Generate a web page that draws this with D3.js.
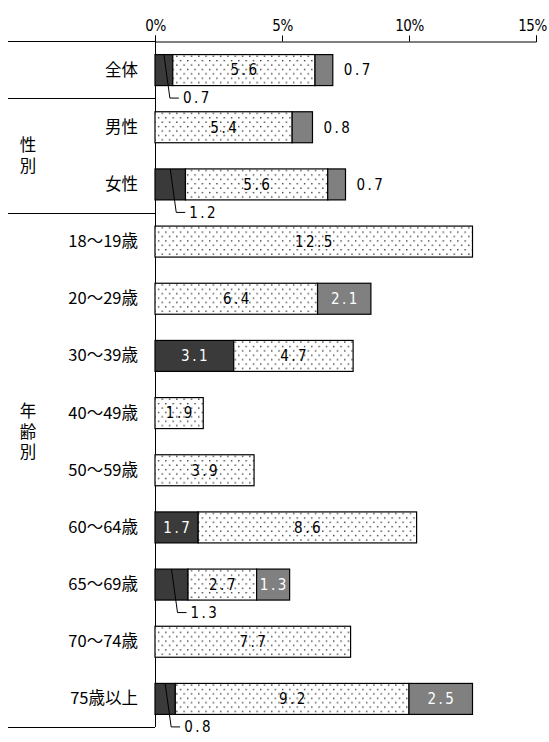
<!DOCTYPE html>
<meta charset="utf-8">
<title>stacked bars</title>
<style>
  body { margin: 0; background: #fff; }
  .cat { font-family: "Noto Sans CJK JP", sans-serif; font-size: 16.5px; fill: #000; }
  .grp { font-family: "Noto Sans CJK JP", sans-serif; font-size: 16.5px; fill: #000; writing-mode: vertical-rl; letter-spacing: 4px; }
  .num { font-family: "DejaVu Sans Condensed", sans-serif; font-size: 15px; letter-spacing: 2.5px; }
  .tick text { font-family: "DejaVu Sans Condensed", sans-serif; font-size: 15px; fill: #000; letter-spacing: -0.5px; }
  .rule { stroke: #000; stroke-width: 1px; }
</style>
<body>
<script src="https://d3js.org/d3.v7.min.js"></script>
<script>

var width = 549,
    height = 742;

var categories = ["全体", "男性", "女性", "18～19歳", "20～29歳", "30～39歳", "40～49歳",
                  "50～59歳", "60～64歳", "65～69歳", "70～74歳", "75歳以上"];
var darkValues   = [0.7, 0,   1.2, 0,    0,   3.1, 0,   0,   1.7, 1.3, 0,   0.8];
var dottedValues = [5.6, 5.4, 5.6, 12.5, 6.4, 4.7, 1.9, 3.9, 8.6, 2.7, 7.7, 9.2];
var grayValues   = [0.7, 0.8, 0.7, 0,    2.1, 0,   0,   0,   0,   1.3, 0,   2.5];
var xTicks = [0, 5, 10, 15];
var groupLabels = ["性別", "年齢別"];
var breaksAfter = ["全体", "女性"];

var svg = d3.select("body").append("svg")
    .attr("width", width)
    .attr("height", height);

// dotted fill
var pat = svg.append("defs").append("pattern")
    .attr("id", "dots")
    .attr("patternUnits", "userSpaceOnUse")
    .attr("width", 7.3).attr("height", 8.8);
pat.append("rect").attr("width", 7.3).attr("height", 8.8).attr("fill", "#fff");
pat.append("rect").attr("x", 1).attr("y", 1.5).attr("width", 1.3).attr("height", 1.3).attr("fill", "#222");
pat.append("rect").attr("x", 4.6).attr("y", 5.9).attr("width", 1.3).attr("height", 1.3).attr("fill", "#222");

var x = d3.scaleLinear().domain([0, 15]).range([155, 536]);
var y = d3.scaleBand().domain(categories).range([41, 727])
    .paddingInner(0.458).paddingOuter(0.229);
var step = y.step();

// table lines on the left
var lineYs = [41, 727].concat(breaksAfter.map(function(c) { return y(c) + y.bandwidth() + step * 0.229; }));
svg.selectAll(".rowline").data(lineYs).enter().append("line")
    .attr("class", "rule")
    .attr("x1", 8).attr("x2", x(0))
    .attr("y1", function(d) { return Math.round(d) + 0.5; })
    .attr("y2", function(d) { return Math.round(d) + 0.5; });

// top axis
var axis = svg.append("g")
    .attr("transform", "translate(0,41.5)")
    .call(d3.axisTop(x).tickValues(xTicks).tickSize(6).tickPadding(5)
      .tickFormat(function(d) { return d + "%"; }));
axis.select(".domain").attr("stroke", "#000");
axis.selectAll(".tick line").attr("stroke", "#000");
// keep the last label inside the page
axis.selectAll(".tick text").filter(function(d) { return d == 15; }).attr("dx", -4);

svg.append("line").attr("class", "rule")
    .attr("x1", x(0) + 0.5).attr("x2", x(0) + 0.5)
    .attr("y1", 41).attr("y2", 727);

// category labels
svg.selectAll(".catlabel").data(categories).enter().append("text")
    .attr("class", "cat")
    .attr("x", x(0) - 17)
    .attr("y", function(d) { return y(d) + y.bandwidth() / 2; })
    .attr("dy", "0.36em")
    .attr("text-anchor", "end")
    .text(function(d) { return d; });

// group labels, written vertically
var groupY = [
  (y("男性") + y("女性")) / 2 + y.bandwidth() / 2,
  y("40～49歳") + y.bandwidth() / 2 + 19
];
svg.selectAll(".grp").data(groupLabels).enter().append("text")
    .attr("class", "grp")
    .attr("x", 28)
    .attr("y", function(d, i) { return groupY[i] + 2; })
    .attr("text-anchor", "middle")
    .text(function(d) { return d; });

// bars
var rows = categories.map(function(c, i) {
  return {cat: c, dark: darkValues[i], dotted: dottedValues[i], gray: grayValues[i]};
});

var bars = svg.selectAll(".row").data(rows).enter().append("g")
    .attr("transform", function(d) { return "translate(0," + y(d.cat) + ")"; });
var h = y.bandwidth();

bars.each(function(d) {
  var g = d3.select(this);
  var segs = [
    {v: d.dark, fill: "#3a3a3a", start: 0},
    {v: d.dotted, fill: "url(#dots)", start: d.dark},
    {v: d.gray, fill: "#808080", start: d.dark + d.dotted}
  ];
  segs.forEach(function(s, k) {
    if (!s.v) return;
    var x0 = x(s.start), x1 = x(s.start + s.v);
    g.append("rect")
      .attr("x", x0).attr("y", 0.5)
      .attr("width", x1 - x0).attr("height", h)
      .attr("fill", s.fill)
      .attr("stroke", "#000").attr("stroke-width", 1.2);

    var cx = (x0 + x1) / 2;
    var label = s.v.toFixed(1);
    if (k == 1 || (k == 0 && s.v >= 1.5) || (k == 2 && s.v >= 1.0)) {
      g.append("text").attr("class", "num")
        .attr("x", cx + 1.2).attr("y", h / 2 + 0.5).attr("dy", "0.36em")
        .attr("text-anchor", "middle")
        .attr("fill", k == 1 ? "#000" : "#fff")
        .text(label);
    } else if (k == 0) {
      // leader line below the bar
      var by = h + 13;
      g.append("path")
        .attr("d", "M" + cx + ",0.5L" + (cx + 6) + "," + by + "L" + (cx + 15) + "," + by)
        .attr("fill", "none").attr("stroke", "#000").attr("stroke-width", 1);
      g.append("text").attr("class", "num")
        .attr("x", cx + 19).attr("y", by).attr("dy", "0.36em")
        .attr("fill", "#000")
        .text(label);
    } else {
      g.append("text").attr("class", "num")
        .attr("x", x1 + 11).attr("y", h / 2 + 0.5).attr("dy", "0.36em")
        .attr("fill", "#000")
        .text(label);
    }
  });
});

</script>
